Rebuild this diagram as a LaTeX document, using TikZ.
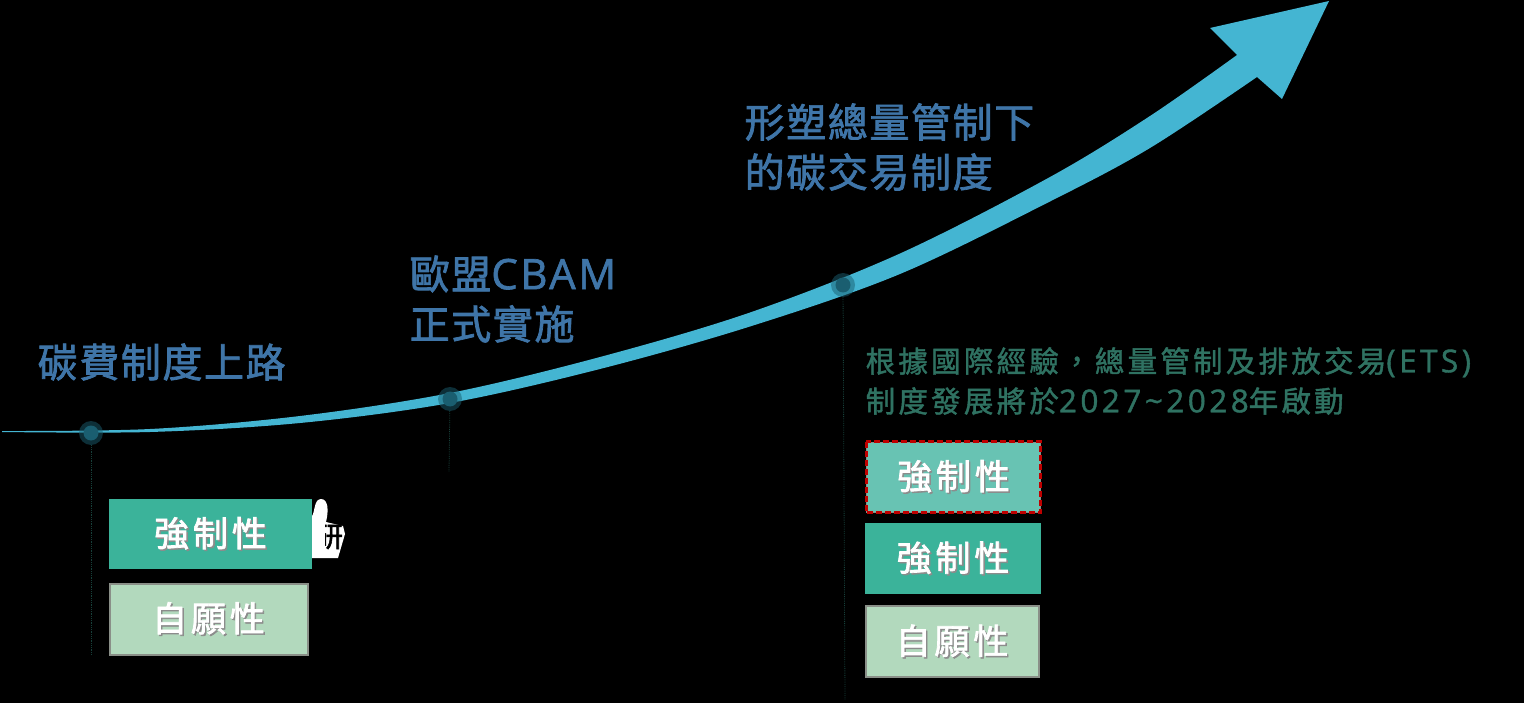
\documentclass[tikz,border=0pt]{standalone}
\usepackage{fontspec}
\setmainfont{Noto Sans CJK TC}
\newfontfamily\lat{Open Sans}
\definecolor{bg}{HTML}{000000}
\definecolor{arrowc}{HTML}{44B5D2}
\definecolor{titlec}{HTML}{3F75A8}
\definecolor{notec}{HTML}{2F7262}
\definecolor{boxa}{HTML}{3BB39A}
\definecolor{boxb}{HTML}{B2D9BD}
\definecolor{boxc}{HTML}{68C3B3}
\definecolor{edgec}{HTML}{8A8F88}
\definecolor{dotc}{HTML}{1A5E70}
\definecolor{leadc}{HTML}{17403A}
\newcommand{\shtext}[1]{\leavevmode\rlap{\kern1.5pt\raisebox{-1.5pt}{\color{black!45}#1}}{\color{white}#1}}
\newcommand{\titlelat}[1]{{\lat\fontsize{42}{50}\selectfont\addfontfeature{LetterSpace=6,FakeBold=1.5}#1}}
\newcommand{\notelat}[1]{{\lat\fontsize{31.5}{40}\selectfont\addfontfeature{LetterSpace=11,FakeBold=1.2}#1}}
\tikzset{
  title/.style={anchor=west,inner sep=0pt,align=left,text=titlec,font=\fontsize{40}{50}\selectfont\addfontfeature{LetterSpace=4,FakeBold=1.8}},
  note/.style={anchor=west,inner sep=0pt,align=left,text=notec,font=\fontsize{29.5}{40}\selectfont\addfontfeature{LetterSpace=11,FakeBold=1.4}},
  tagbox/.style={inner sep=0pt,minimum width=#1,font=\fontsize{35}{40}\selectfont\addfontfeature{LetterSpace=11,FakeBold=2}},
  must/.style={tagbox=#1,fill=boxa,minimum height=70.5pt},
  vol/.style={tagbox=#1,fill=boxb,draw=edgec,line width=2pt,minimum height=71pt},
  draft/.style={tagbox=#1,fill=boxc,draw=edgec,line width=.8pt,minimum height=70pt},
  halo/.style={circle,inner sep=0pt,minimum size=24pt,fill=dotc,fill opacity=.5},
  dot/.style={circle,inner sep=0pt,minimum size=15pt,fill=dotc},
  lead/.style={draw=leadc,line width=.8pt,densely dotted},
}
\begin{document}
\begin{tikzpicture}[x=1pt,y=-1pt]
\useasboundingbox (0,0) rectangle (1524,703);
\fill[bg] (0,0) rectangle (1524,703);
% sweep arrow
\fill[arrowc] plot[smooth,tension=.55] coordinates {(2,431) (150,429) (300,416) (450,393) (600,357) (750,312.5) (900,253.5) (1050,177) (1150,116) (1237,55)}
  -- (1210,28) -- (1329,1) -- (1282,99) -- (1257,77)
  -- plot[smooth,tension=.55] coordinates {(1257,77) (1150,148) (1050,201.5) (900,274) (750,326.5) (600,369) (450,403) (300,423) (150,432) (2,432)} -- cycle;
% markers and leads
\node[halo] (h1) at (91,433) {};
\node[halo] (h2) at (450,399) {};
\node[halo] (h3) at (843,285) {};
\node[dot] (d1) at (91,433) {};
\node[dot] (d2) at (450,399) {};
\node[dot] (d3) at (843,285) {};
\coordinate (e1) at (91,655);
\coordinate (e2) at (449,472);
\coordinate (e3) at (845,700);
\draw[lead] (h1) -- (e1);
\draw[lead] (h2) -- (e2);
\draw[lead] (h3) -- (e3);
% headings
\node[title] (t1) at (37.5,362) {碳費制度上路};
\node[title] (t2) at (409.5,299) {歐盟\titlelat{CBAM}\\正式實施};
\node[title] (t3) at (744.5,147) {形塑總量管制下\\的碳交易制度};
\node[note] (n3) at (865.5,381) {根據國際經驗，總量管制及排放交易\notelat{(ETS)}\\制度發展將於\notelat{2027\textasciitilde2028}年啟動};
% clipped white fragment beside the first tag
\fill[white] (312,524) -- (312,516) .. controls (315,512) and (314,499) .. (321,499) .. controls (328,499) and (329,510) .. (326,522)
  -- (343,526) -- (345,534) -- (338,558) -- (312,558) -- cycle;
\begin{scope}
\clip (325,522) rectangle (345,552);
\node[inner sep=0pt,text=black,font=\fontsize{28}{28}\selectfont\addfontfeature{FakeBold=2}] (frag) at (329,537) {研};
\end{scope}
% tags
\node[must=203pt] (b1) at (210.5,534) {\shtext{強制性}};
\node[vol=198pt] (b2) at (208.5,619) {\shtext{自願性}};
\node[draft=174pt] (b3) at (953.5,477) {\shtext{強制性}};
\draw[draw=red!75!black,line width=3pt,dash pattern=on 6pt off 3pt] (b3.north west) rectangle (b3.south east);
\node[must=176pt] (b4) at (953,558.5) {\shtext{強制性}};
\node[vol=173pt] (b5) at (952,641.5) {\shtext{自願性}};
\end{tikzpicture}
\end{document}
